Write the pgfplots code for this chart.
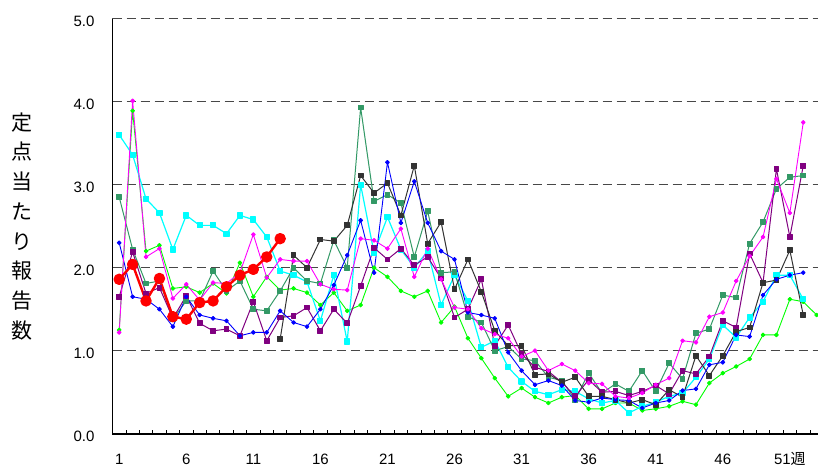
\documentclass[border=0pt]{standalone}
\usepackage{fontspec}
\setmainfont{Liberation Sans}
\newfontfamily\cjk{Noto Sans CJK JP}
\usepackage{pgfplots}
\pgfplotsset{compat=1.18}
\definecolor{cCyan}{HTML}{00FFFF}
\definecolor{cGreen}{HTML}{00FF00}
\definecolor{cSea}{HTML}{339966}
\definecolor{cGray}{HTML}{333333}
\definecolor{cPurp}{HTML}{800080}
\definecolor{cBlue}{HTML}{0000FF}
\definecolor{cMag}{HTML}{FF00FF}
\definecolor{cRed}{HTML}{FF0000}
\begin{document}
\begin{tikzpicture}
\begin{axis}[
  scale only axis, width=705.5pt, height=415pt,
  at={(0,0)}, anchor=south west,
  xmin=0.5, xmax=53.1, ymin=0, ymax=5,
  axis x line*=bottom, axis y line*=left,
  axis line style={line width=1.8pt, -},
  xtick={1,6,11,16,21,26,31,36,41,46,51},
  xticklabels={1,6,11,16,21,26,31,36,41,46,51{\cjk 週}},
  minor xtick={1.5,2.5,...,52.5},
  ytick={0,1,2,3,4,5},
  major tick length=0pt, minor tick length=4pt, tick align=inside,
  minor tick style={black, line width=0.8pt},
  ymajorgrids,
  major grid style={dash pattern=on 9pt off 5pt, line width=1.4pt, color=black!72},
  yticklabel={\pgfmathprintnumber[fixed, fixed zerofill, precision=1, assume math mode=true]{\tick}},
  yticklabel style={font=\fontsize{15}{15}\selectfont, anchor=east, xshift=-14.5pt, yshift=-2.5pt},
  xticklabel style={font=\fontsize{15}{15}\selectfont, anchor=base, yshift=-31pt},
  ylabel={定\\点\\当\\た\\り\\報\\告\\数},
  every axis y label/.style={at={(axis description cs:0,0.5)}, anchor=center, xshift=-90pt, align=center, font=\cjk\fontsize{21}{29.7}\selectfont},
  every axis plot/.append style={line join=round},
]
% green
\addplot[color=cGreen, line width=0.9pt, mark=*, mark size=1.9pt] coordinates {
(1,1.25)(2,3.89)(3,2.20)(4,2.27)(5,1.75)(6,1.77)(7,1.70)(8,1.81)(9,1.69)(10,2.06)
(11,1.65)(12,1.89)(13,1.73)(14,1.75)(15,1.70)(16,1.55)(17,1.70)(18,1.48)(19,1.55)(20,2.00)
(21,1.89)(22,1.72)(23,1.65)(24,1.72)(25,1.34)(26,1.53)(27,1.15)(28,0.91)(29,0.67)(30,0.45)
(31,0.55)(32,0.44)(33,0.37)(34,0.44)(35,0.46)(36,0.30)(37,0.30)(38,0.37)(39,0.37)(40,0.28)
(41,0.30)(42,0.33)(43,0.39)(44,0.35)(45,0.61)(46,0.73)(47,0.81)(48,0.90)(49,1.19)(50,1.19)
(51,1.62)(52,1.59)(53,1.43)};
% cyan
\addplot[color=cCyan, line width=1.2pt, mark=square*, mark size=2.5pt] coordinates {
(1,3.60)(2,3.36)(3,2.83)(4,2.66)(5,2.22)(6,2.63)(7,2.51)(8,2.51)(9,2.41)(10,2.63)
(11,2.58)(12,2.37)(13,1.96)(14,1.91)(15,1.83)(16,1.36)(17,1.91)(18,1.11)(19,3.00)(20,2.18)
(21,2.61)(22,2.22)(23,2.00)(24,2.20)(25,1.55)(26,1.91)(27,1.60)(28,1.04)(29,1.12)(30,0.80)
(31,0.63)(32,0.51)(33,0.47)(34,0.53)(35,0.51)(36,0.42)(37,0.37)(38,0.40)(39,0.25)(40,0.33)
(41,0.38)(42,0.45)(43,0.49)(44,0.68)(45,0.90)(46,1.31)(47,1.16)(48,1.40)(49,1.59)(50,1.91)
(51,1.91)(52,1.62)};
% seagreen
\addplot[color=cSea, line width=1pt, mark=square*, mark size=2.4pt] coordinates {
(1,2.85)(2,2.22)(3,1.81)(4,1.84)(5,1.38)(6,1.60)(7,1.60)(8,1.96)(9,1.72)(10,1.84)
(11,1.50)(12,1.48)(13,1.72)(14,2.00)(15,1.84)(16,1.81)(17,2.33)(18,2.00)(19,3.93)(20,2.80)
(21,2.88)(22,2.78)(23,2.13)(24,2.68)(25,1.94)(26,1.95)(27,1.41)(28,1.34)(29,1.00)(30,1.05)
(31,0.90)(32,0.88)(33,0.68)(34,0.64)(35,0.41)(36,0.73)(37,0.49)(38,0.60)(39,0.51)(40,0.76)
(41,0.51)(42,0.85)(43,0.66)(44,1.21)(45,1.26)(46,1.67)(47,1.64)(48,2.29)(49,2.55)(50,2.95)
(51,3.09)(52,3.11)};
% purple
\addplot[color=cPurp, line width=1pt, mark=square*, mark size=2.4pt] coordinates {
(1,1.65)(2,2.19)(3,1.69)(4,1.76)(5,1.39)(6,1.66)(7,1.33)(8,1.24)(9,1.26)(10,1.18)
(11,1.59)(12,1.12)(13,1.40)(14,1.42)(15,1.52)(16,1.24)(17,1.50)(18,1.33)(19,1.78)(20,2.24)
(21,2.10)(22,2.23)(23,2.03)(24,2.13)(25,1.87)(26,1.40)(27,1.50)(28,1.86)(29,1.06)(30,1.31)
(31,0.96)(32,0.80)(33,0.75)(34,0.62)(35,0.45)(36,0.65)(37,0.50)(38,0.51)(39,0.46)(40,0.51)
(41,0.58)(42,0.48)(43,0.76)(44,0.72)(45,0.93)(46,1.36)(47,1.28)(48,2.17)(49,1.82)(50,3.19)
(51,2.37)(52,3.23)};
% dark gray
\addplot[color=cGray, line width=1pt, mark=square*, mark size=2.4pt] coordinates {
(13,1.14)(14,2.15)(15,2.00)(16,2.34)(17,2.32)(18,2.51)(19,3.11)(20,2.90)
(21,3.02)(22,2.63)(23,3.23)(24,2.29)(25,2.55)(26,1.74)(27,2.10)(28,1.71)(29,1.24)(30,1.06)
(31,1.06)(32,0.71)(33,0.72)(34,0.62)(35,0.68)(36,0.45)(37,0.45)(38,0.41)(39,0.37)(40,0.41)
(41,0.35)(42,0.53)(43,0.44)(44,0.94)(45,0.70)(46,0.94)(47,1.23)(48,1.28)(49,1.82)(50,1.85)
(51,2.21)(52,1.43)};
% blue
\addplot[color=cBlue, line width=0.9pt, mark=*, mark size=1.9pt] coordinates {
(1,2.30)(2,1.65)(3,1.62)(4,1.50)(5,1.29)(6,1.65)(7,1.43)(8,1.39)(9,1.36)(10,1.18)
(11,1.22)(12,1.22)(13,1.48)(14,1.34)(15,1.29)(16,1.50)(17,1.79)(18,2.15)(19,2.57)(20,1.94)
(21,3.27)(22,2.54)(23,3.04)(24,2.54)(25,2.20)(26,2.10)(27,1.46)(28,1.43)(29,1.39)(30,0.98)
(31,0.76)(32,0.59)(33,0.64)(34,0.58)(35,0.40)(36,0.38)(37,0.43)(38,0.41)(39,0.40)(40,0.31)
(41,0.37)(42,0.40)(43,0.52)(44,0.54)(45,0.83)(46,0.86)(47,1.19)(48,1.17)(49,1.67)(50,1.86)
(51,1.91)(52,1.94)};
% magenta
\addplot[color=cMag, line width=0.9pt, mark=*, mark size=1.9pt] coordinates {
(1,1.22)(2,4.01)(3,2.13)(4,2.23)(5,1.63)(6,1.80)(7,1.61)(8,1.82)(9,1.81)(10,1.94)
(11,2.40)(12,1.88)(13,2.10)(14,2.08)(15,2.08)(16,1.80)(17,1.74)(18,1.73)(19,2.35)(20,2.33)
(21,2.23)(22,2.47)(23,1.89)(24,2.23)(25,1.86)(26,1.52)(27,1.50)(28,1.27)(29,1.20)(30,1.15)
(31,0.93)(32,1.00)(33,0.76)(34,0.84)(35,0.76)(36,0.61)(37,0.60)(38,0.45)(39,0.43)(40,0.49)
(41,0.59)(42,0.67)(43,1.12)(44,1.10)(45,1.41)(46,1.46)(47,1.84)(48,2.14)(49,2.37)(50,3.07)
(51,2.66)(52,3.75)};
% red (current year)
\addplot[color=cRed, line width=2.4pt, mark=*, mark size=4.5pt] coordinates {
(1,1.86)(2,2.04)(3,1.60)(4,1.87)(5,1.41)(6,1.38)(7,1.58)(8,1.60)(9,1.77)(10,1.91)
(11,1.98)(12,2.13)(13,2.35)};
\end{axis}
\pgfresetboundingbox
\useasboundingbox (-112.5pt,-34.3pt) rectangle (705.5pt,433.7pt);
\end{tikzpicture}
\end{document}
